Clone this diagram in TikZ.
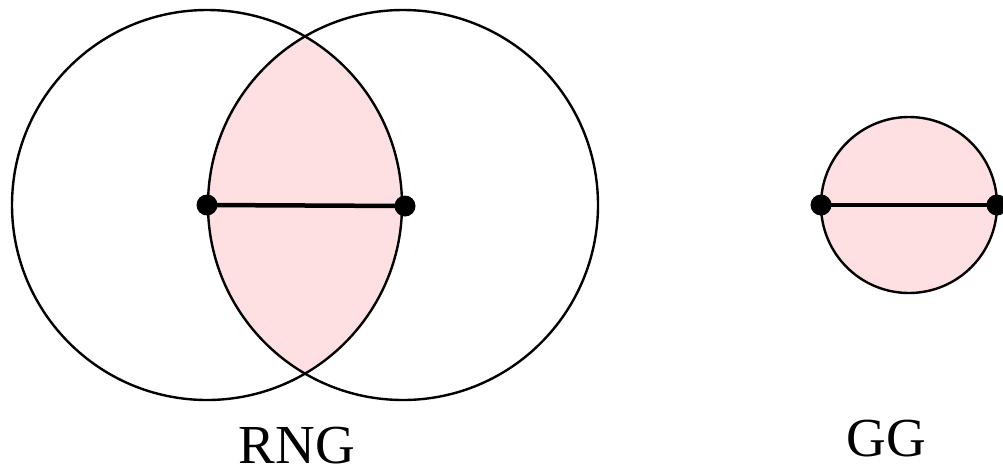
\documentclass[tikz,border=0pt]{standalone}
\usepackage{fontspec}
\setmainfont{Liberation Serif}
\definecolor{lenspink}{RGB}{255,224,226}
\begin{document}
\begin{tikzpicture}[x=1pt,y=-1pt,
  ring/.style={draw=black,line width=2.4pt},
  dot/.style={circle,fill=black,inner sep=0pt,minimum size=21pt},
  edge/.style={line width=4.5pt},
  lbl/.style={font=\fontsize{55}{60}\selectfont,anchor=base,inner sep=0pt}]
\useasboundingbox (0,0) rectangle (1003,472);
% RNG lens
\begin{scope}
  \clip (207,205) circle (195);
  \fill[lenspink] (403,205) circle (195);
\end{scope}
\draw[ring] (207,205) circle (195);
\draw[ring] (403,205) circle (195);
\node[dot] (a) at (207,205) {};
\node[dot] (b) at (405,206) {};
\draw[edge] (a.center) -- (b.center);
% GG disc
\fill[lenspink] (909,205) circle (88);
\draw[ring] (909,205) circle (88);
\node[dot] (c) at (821,205) {};
\node[dot] (d) at (997,205) {};
\draw[edge] (c.center) -- (d.center);
\node[lbl] (rng) at (297,463) {RNG};
\node[lbl] (gg) at (886,456) {GG};
\end{tikzpicture}
\end{document}
